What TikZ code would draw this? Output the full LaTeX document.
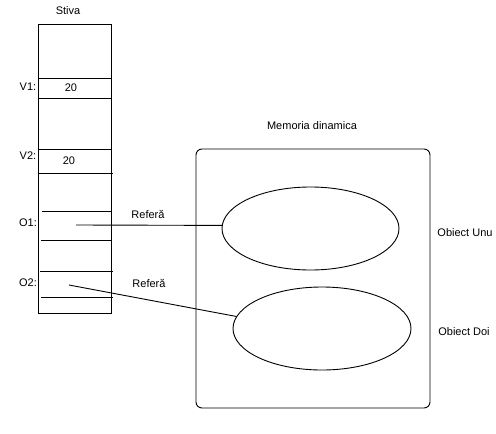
\documentclass[tikz,border=0pt]{standalone}
\usepackage{fontspec}
\setmainfont{Liberation Sans}
\usepackage{tikz}
\usetikzlibrary{shapes.geometric}

\begin{document}
\begin{tikzpicture}[
        x=1pt, y=-1pt,
        font=\fontsize{11}{13}\selectfont,
        line width=0.9pt,
        lbl/.style={inner sep=0pt},
        cell/.style={draw, inner sep=0pt},
        obj/.style={draw, ellipse, inner sep=0pt, minimum width=177pt,
            minimum height=83pt},
    ]
        \useasboundingbox (0,0) rectangle (496,434);

        % stack column
        \node[lbl] (titlu) at (68,11) {Stiva};
        \node[cell, minimum width=73pt, minimum height=289pt] (stiva) at (74.5,168.5) {};
        \draw (38,78) -- (111,78);
        \draw (38,98) -- (111,98);
        \draw (38,149) -- (111,149);
        \draw (38,173) -- (113,173);
        \draw (42,211) -- (111,211);
        \draw (41,240) -- (111,240);
        \draw (40,271) -- (113,271);
        \draw (41,297) -- (113,297);

        \node[lbl] (v1) at (28,87) {V1:};
        \node[lbl] (v1val) at (71,88) {20};
        \node[lbl] (v2) at (28,156) {V2:};
        \node[lbl] (v2val) at (69,161) {20};
        \node[lbl] (o1) at (28,223) {O1:};
        \node[lbl] (o2) at (28,283) {O2:};

        % heap
        \node[lbl] (memtitlu) at (312,126) {Memoria dinamica};
        \node[cell, rounded corners=6pt, minimum width=234pt, minimum height=259pt] (heap) at (313,278.5) {};
        \node[obj] (unu) at (310.5,228.5) {};
        \node[obj, minimum width=178pt] (doi) at (322,328.5) {};
        \node[lbl] (unulbl) at (465,233) {Obiect Unu};
        \node[lbl] (doilbl) at (464,332) {Obiect Doi};

        % references
        \coordinate (p1) at (76,225);
        \coordinate (p2) at (69,285);
        \draw (p1) -- (unu.178);
        \draw (p2) -- (doi.172);
        \node[lbl] (ref1) at (148,214) {Referă};
        \node[lbl] (ref2) at (149,283) {Referă};
    \end{tikzpicture}
\end{document}
